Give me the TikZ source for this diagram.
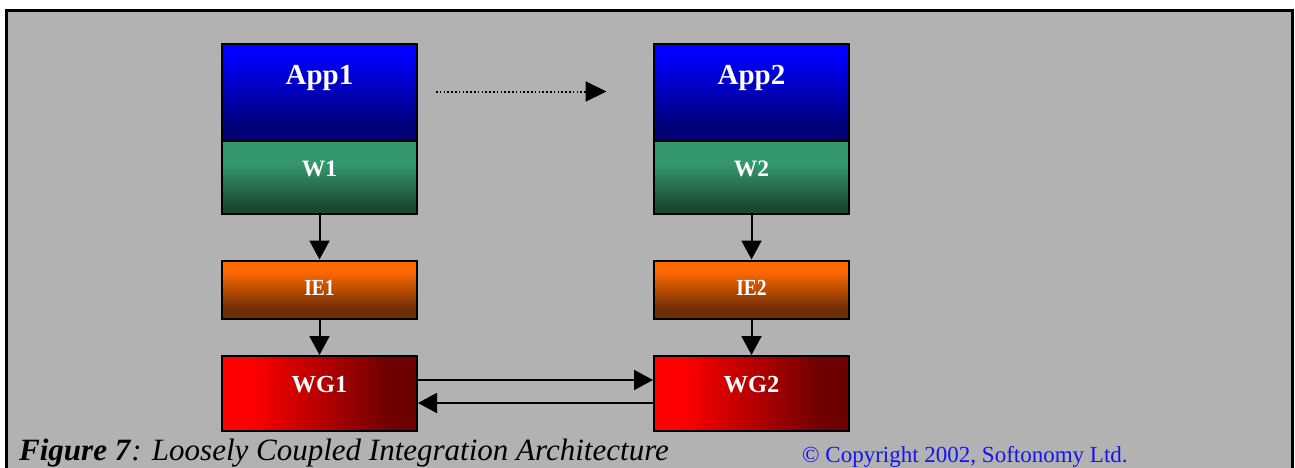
\documentclass[tikz,border=0pt]{standalone}
\usepackage{fontspec}
\setmainfont{Liberation Serif}
\usepackage{graphicx}
\usetikzlibrary{arrows.meta,calc}
\definecolor{bggray}{RGB}{178,178,178}
\definecolor{apptop}{RGB}{0,0,255}
\definecolor{appbot}{RGB}{0,0,118}
\definecolor{wtop}{RGB}{52,152,108}
\definecolor{wbot}{RGB}{27,72,48}
\definecolor{ietop}{RGB}{255,105,0}
\definecolor{iebot}{RGB}{110,45,5}
\definecolor{wgred}{RGB}{255,0,0}
\definecolor{wgdark}{RGB}{110,0,0}
\definecolor{copyblue}{RGB}{20,20,240}
\pgfdeclareverticalshading{appshade}{100bp}{color(0bp)=(appbot); color(25bp)=(appbot); color(32bp)=(appbot); color(70bp)=(apptop); color(75bp)=(apptop); color(100bp)=(apptop)}
\pgfdeclareverticalshading{wshade}{100bp}{color(0bp)=(wbot); color(25bp)=(wbot); color(30bp)=(wbot); color(59bp)=(wtop); color(75bp)=(wtop); color(100bp)=(wtop)}
\pgfdeclareverticalshading{ieshade}{100bp}{color(0bp)=(iebot); color(25bp)=(iebot); color(33bp)=(iebot); color(66bp)=(ietop); color(75bp)=(ietop); color(100bp)=(ietop)}
\pgfdeclarehorizontalshading{wgshade}{100bp}{color(0bp)=(wgred); color(25bp)=(wgred); color(32bp)=(wgred); color(68bp)=(wgdark); color(75bp)=(wgdark); color(100bp)=(wgdark)}
\tikzset{
  box/.style={draw=black, line width=2pt, minimum width=195pt, inner sep=0pt, anchor=north west, shade},
  appbox/.style={box, shading=appshade, minimum height=97pt},
  wbox/.style={box, shading=wshade, minimum height=73pt},
  iebox/.style={box, shading=ieshade, minimum height=58pt},
  wgbox/.style={box, shading=wgshade, minimum height=75pt},
  boxtxt/.style={text=white, anchor=base, inner sep=0pt},
  apptxt/.style={boxtxt, font=\bfseries\fontsize{29}{29}\selectfont},
  wtxt/.style={boxtxt, font=\bfseries\fontsize{23.5}{23.5}\selectfont},
  ietxt/.style={boxtxt, font=\bfseries\fontsize{23}{23}\selectfont},
  wgtxt/.style={boxtxt, font=\bfseries\fontsize{24.5}{24.5}\selectfont},
  arr/.style={line width=2pt, -{Triangle[length=19pt,width=20pt]}},
  dotarr/.style={line width=2pt, dash pattern=on 1.6pt off 2.2pt, -{Triangle[length=21pt,width=20pt]}},
}
\begin{document}
\begin{tikzpicture}[x=1pt,y=-1pt]
\useasboundingbox (0,0) rectangle (1295,467);
\clip (0,0) rectangle (1295,467);
\draw[line width=3pt, fill=bggray] (6.5,10.5) rectangle (1292.5,490);

% left column
\node[appbox] (app1) at (221,43) {};
\node[wbox] (w1) at (221,140) {};
\node[iebox] (ie1) at (221,259.5) {};
\node[wgbox] (wg1) at (221,355) {};
% right column
\node[appbox] (app2) at (653,43) {};
\node[wbox] (w2) at (653,140) {};
\node[iebox] (ie2) at (653,259.5) {};
\node[wgbox] (wg2) at (653,355) {};

\node[apptxt] (app1t) at ($(app1.north)+(0,41)$) {App1};
\node[apptxt] (app2t) at ($(app2.north)+(0,41)$) {App2};
\node[wtxt] (w1t) at ($(w1.north)+(0,36.5)$) {W1};
\node[wtxt] (w2t) at ($(w2.north)+(0,36.5)$) {W2};
\node[ietxt] (ie1t) at ($(ie1.north)+(0,36)$) {\scalebox{0.85}[1]{IE1}};
\node[ietxt] (ie2t) at ($(ie2.north)+(0,36)$) {\scalebox{0.85}[1]{IE2}};
\node[wgtxt] (wg1t) at ($(wg1.north)+(0,37.5)$) {WG1};
\node[wgtxt] (wg2t) at ($(wg2.north)+(0,37.5)$) {WG2};

% connectors
\draw[arr] (w1.south) -- (ie1.north);
\draw[arr] (ie1.south) -- (wg1.north);
\draw[arr] (w2.south) -- (ie2.north);
\draw[arr] (ie2.south) -- (wg2.north);
\draw[arr] ($(wg1.north east)+(0,25)$) -- ($(wg2.north west)+(0,25)$);
\draw[arr] ($(wg2.north west)+(0,48)$) -- ($(wg1.north east)+(0,48)$);

\coordinate (ds) at (436,91.5);
\coordinate (de) at (606.5,91.5);
\draw[dotarr] (ds) -- (de);

% captions
\node[anchor=base west, inner sep=0pt, font=\fontsize{31}{31}\selectfont] (cap) at (19,460.5)
  {\textbf{\textit{Figure 7}}\textit{: Loosely Coupled Integration Architecture}};
\node[anchor=base west, inner sep=0pt, text=copyblue, font=\fontsize{23}{23}\selectfont] (copy) at (802,462)
  {© Copyright 2002, Softonomy Ltd.};
\end{tikzpicture}
\end{document}
